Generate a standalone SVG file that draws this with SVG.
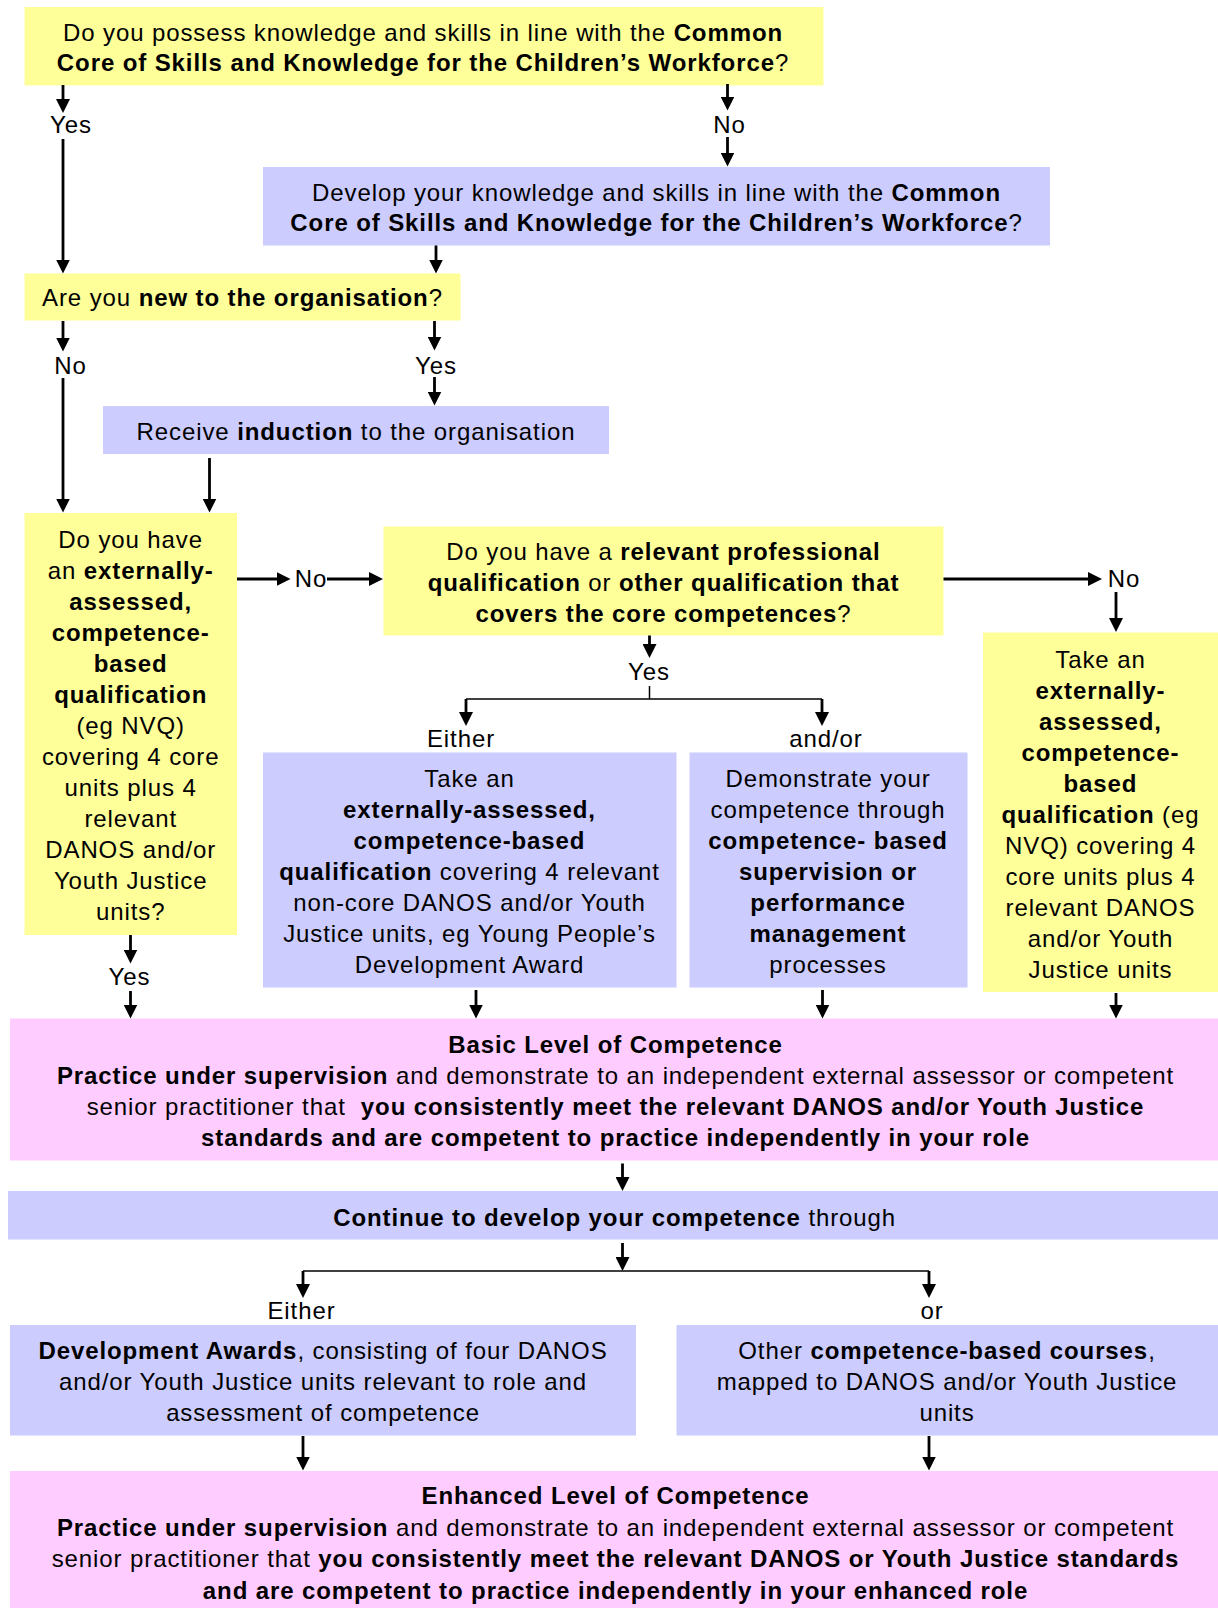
<svg xmlns="http://www.w3.org/2000/svg" width="1218" height="1608" viewBox="0 0 1218 1608">
<defs>
<style>
.t { font-family: "Liberation Sans", Arial, sans-serif; font-size: 24px; letter-spacing: 0.9px; fill: #000; text-anchor: middle; }
.b { font-weight: bold; }
.y { fill: #FFFF99; }
.bl { fill: #CCCCFF; }
.p { fill: #FFCCFF; }
.c { stroke: #000; stroke-width: 2.8; fill: none; marker-end: url(#ah); }
.thin { stroke: #000; stroke-width: 1.5; fill: none; }
</style>
<marker id="ah" markerUnits="userSpaceOnUse" viewBox="0 0 14 14" markerWidth="14" markerHeight="14" refX="4" refY="7" orient="auto">
<path d="M0,0 L14,7 L0,14 z" fill="#000"/>
</marker>
</defs>
<rect width="1218" height="1608" fill="#fff"/>

<g id="q-common-core">
<rect class="y" x="24.5" y="7" width="799" height="78.5"/>
<text class="t" x="423" y="40.5">Do you possess knowledge and skills in line with the <tspan class="b">Common</tspan></text>
<text class="t" x="423" y="71"><tspan class="b">Core of Skills and Knowledge for the Children’s Workforce</tspan>?</text>
</g>

<g id="develop-common-core">
<rect class="bl" x="263" y="167" width="787" height="78.5"/>
<text class="t" x="656.5" y="200.5">Develop your knowledge and skills in line with the <tspan class="b">Common</tspan></text>
<text class="t" x="656.5" y="230.5"><tspan class="b">Core of Skills and Knowledge for the Children’s Workforce</tspan>?</text>
</g>

<g id="q-new">
<rect class="y" x="24.5" y="273.5" width="436" height="47"/>
<text class="t" x="242.5" y="306">Are you <tspan class="b">new to the organisation</tspan>?</text>
</g>

<g id="induction">
<rect class="bl" x="103" y="406" width="506" height="48"/>
<text class="t" x="356" y="440">Receive <tspan class="b">induction</tspan> to the organisation</text>
</g>

<g id="q-nvq">
<rect class="y" x="24.5" y="513" width="212.5" height="422"/>
<text class="t" x="130.7" y="547.5">Do you have</text>
<text class="t" x="130.7" y="578.5">an <tspan class="b">externally-</tspan></text>
<text class="t b" x="130.7" y="609.5">assessed,</text>
<text class="t b" x="130.7" y="640.5">competence-</text>
<text class="t b" x="130.7" y="671.5">based</text>
<text class="t b" x="130.7" y="702.5">qualification</text>
<text class="t" x="130.7" y="733.5">(eg NVQ)</text>
<text class="t" x="130.7" y="764.5">covering 4 core</text>
<text class="t" x="130.7" y="795.5">units plus 4</text>
<text class="t" x="130.7" y="826.5">relevant</text>
<text class="t" x="130.7" y="857.5">DANOS and/or</text>
<text class="t" x="130.7" y="888.5">Youth Justice</text>
<text class="t" x="130.7" y="919.5">units?</text>
</g>

<g id="q-professional">
<rect class="y" x="383.5" y="526.5" width="560" height="109"/>
<text class="t" x="663.5" y="559.5">Do you have a <tspan class="b">relevant professional</tspan></text>
<text class="t" x="663.5" y="590.5"><tspan class="b">qualification</tspan> or <tspan class="b">other qualification that</tspan></text>
<text class="t" x="663.5" y="621.5"><tspan class="b">covers the core competences</tspan>?</text>
</g>

<g id="take-nvq">
<rect class="y" x="983" y="632.5" width="235" height="359.5"/>
<text class="t" x="1100.5" y="667.5">Take an</text>
<text class="t b" x="1100.5" y="698.5">externally-</text>
<text class="t b" x="1100.5" y="729.5">assessed,</text>
<text class="t b" x="1100.5" y="760.5">competence-</text>
<text class="t b" x="1100.5" y="791.5">based</text>
<text class="t" x="1100.5" y="822.5"><tspan class="b">qualification</tspan> (eg</text>
<text class="t" x="1100.5" y="853.5">NVQ) covering 4</text>
<text class="t" x="1100.5" y="884.5">core units plus 4</text>
<text class="t" x="1100.5" y="915.5">relevant DANOS</text>
<text class="t" x="1100.5" y="946.5">and/or Youth</text>
<text class="t" x="1100.5" y="977.5">Justice units</text>
</g>

<g id="take-noncore">
<rect class="bl" x="263" y="752.5" width="413.5" height="235"/>
<text class="t" x="469.5" y="786.5">Take an</text>
<text class="t b" x="469.5" y="817.5">externally-assessed,</text>
<text class="t b" x="469.5" y="848.5">competence-based</text>
<text class="t" x="469.5" y="879.5"><tspan class="b">qualification</tspan> covering 4 relevant</text>
<text class="t" x="469.5" y="910.5">non-core DANOS and/or Youth</text>
<text class="t" x="469.5" y="941.5">Justice units, eg Young People’s</text>
<text class="t" x="469.5" y="972.5">Development Award</text>
</g>

<g id="demonstrate">
<rect class="bl" x="689.5" y="752.5" width="278" height="235"/>
<text class="t" x="828" y="786.5">Demonstrate your</text>
<text class="t" x="828" y="817.5">competence through</text>
<text class="t b" x="828" y="848.5">competence- based</text>
<text class="t b" x="828" y="879.5">supervision or</text>
<text class="t b" x="828" y="910.5">performance</text>
<text class="t b" x="828" y="941.5">management</text>
<text class="t" x="828" y="972.5">processes</text>
</g>

<g id="basic-level">
<rect class="p" x="10" y="1018.5" width="1208" height="142"/>
<text class="t b" x="615.5" y="1053">Basic Level of Competence</text>
<text class="t" x="615.5" y="1084"><tspan class="b">Practice under supervision</tspan> and demonstrate to an independent external assessor or competent</text>
<text class="t" x="615.5" y="1115" xml:space="preserve">senior practitioner that  <tspan class="b">you consistently meet the relevant DANOS and/or Youth Justice</tspan></text>
<text class="t b" x="615.5" y="1146">standards and are competent to practice independently in your role</text>
</g>

<g id="continue">
<rect class="bl" x="8" y="1191" width="1210" height="48.5"/>
<text class="t" x="614.7" y="1225.5"><tspan class="b">Continue to develop your competence</tspan> through</text>
</g>

<g id="dev-awards">
<rect class="bl" x="10" y="1325" width="626" height="110.5"/>
<text class="t" x="323" y="1358.5"><tspan class="b">Development Awards</tspan>, consisting of four DANOS</text>
<text class="t" x="323" y="1389.5">and/or Youth Justice units relevant to role and</text>
<text class="t" x="323" y="1420.5">assessment of competence</text>
</g>

<g id="other-courses">
<rect class="bl" x="676.5" y="1325" width="541.5" height="110.5"/>
<text class="t" x="947" y="1358.5">Other <tspan class="b">competence-based courses</tspan>,</text>
<text class="t" x="947" y="1389.5">mapped to DANOS and/or Youth Justice</text>
<text class="t" x="947" y="1420.5">units</text>
</g>

<g id="enhanced-level">
<rect class="p" x="10" y="1471" width="1208" height="137"/>
<text class="t b" x="615.5" y="1504">Enhanced Level of Competence</text>
<text class="t" x="615.5" y="1535.5"><tspan class="b">Practice under supervision</tspan> and demonstrate to an independent external assessor or competent</text>
<text class="t" x="615.5" y="1567">senior practitioner that <tspan class="b">you consistently meet the relevant DANOS or Youth Justice standards</tspan></text>
<text class="t b" x="615.5" y="1598.5">and are competent to practice independently in your enhanced role</text>
</g>

<g id="connectors">
<path class="c" d="M63,85 V103"/>
<path class="c" d="M63,139 V263.5"/>
<path class="c" d="M727.5,84 V100.5"/>
<path class="c" d="M727.5,137 V156.5"/>
<path class="c" d="M436,245.5 V263.5"/>
<path class="c" d="M63,321 V341.5"/>
<path class="c" d="M63,378 V502.5"/>
<path class="c" d="M434.5,321 V340.5"/>
<path class="c" d="M434.5,377 V395.5"/>
<path class="c" d="M209.5,458 V502.5"/>
<path class="c" d="M237,579 H280.5"/>
<path class="c" d="M327,579 H373"/>
<path class="c" d="M943.5,579 H1092"/>
<path class="c" d="M1116,592 V622"/>
<path class="c" d="M649.5,635.5 V648"/>
<path class="thin" d="M649.5,686 V699"/>
<path class="thin" d="M466,699 H822"/>
<path class="c" d="M466,699 V716"/>
<path class="c" d="M822,699 V716"/>
<path class="c" d="M130.5,935 V953.5"/>
<path class="c" d="M130.5,991 V1008.5"/>
<path class="c" d="M476,990 V1008.5"/>
<path class="c" d="M822.5,990 V1008.5"/>
<path class="c" d="M1116,993 V1008.5"/>
<path class="c" d="M622.5,1163.5 V1181"/>
<path class="c" d="M622.5,1243 V1261"/>
<path class="thin" d="M303,1271 H929"/>
<path class="c" d="M303,1271 V1288"/>
<path class="c" d="M929,1271 V1288"/>
<path class="c" d="M303,1436 V1460.5"/>
<path class="c" d="M929,1436 V1460.5"/>
<text class="t" x="71" y="133">Yes</text>
<text class="t" x="729.5" y="133">No</text>
<text class="t" x="70.5" y="374">No</text>
<text class="t" x="436" y="374">Yes</text>
<text class="t" x="311" y="587">No</text>
<text class="t" x="1124" y="587">No</text>
<text class="t" x="649" y="680">Yes</text>
<text class="t" x="461" y="746.5">Either</text>
<text class="t" x="826" y="746.5">and/or</text>
<text class="t" x="129.5" y="984.5">Yes</text>
<text class="t" x="301.5" y="1318.5">Either</text>
<text class="t" x="932" y="1318.5">or</text>
</g>
</svg>
